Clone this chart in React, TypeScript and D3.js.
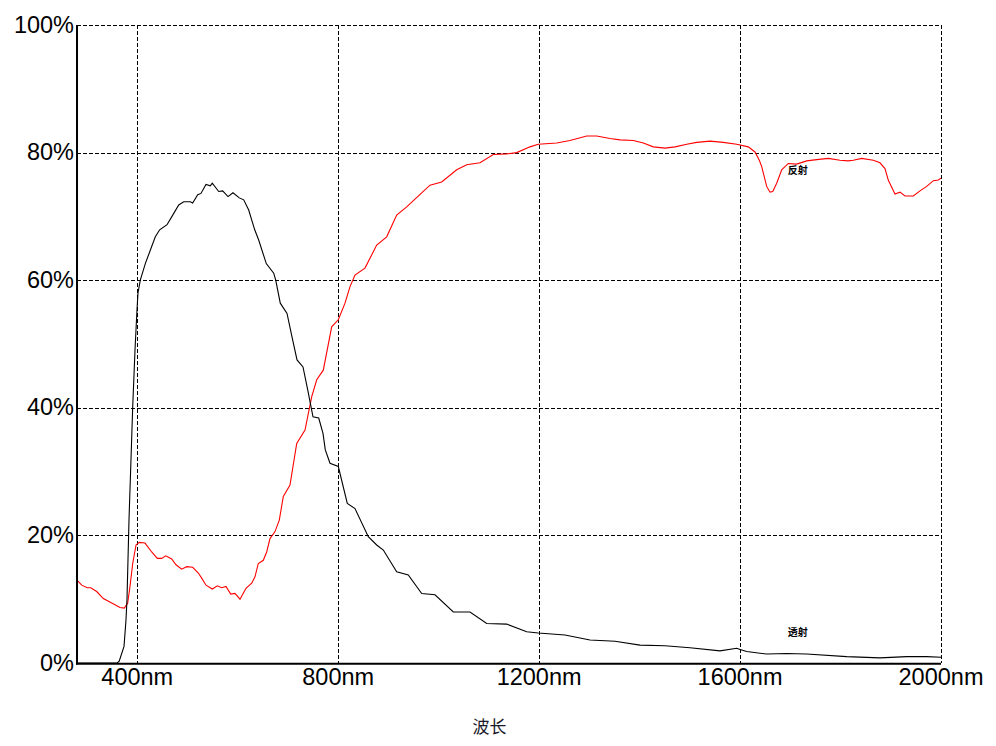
import React from "react";
import * as d3 from "d3";

// Wavelength (nm) and transmission (%) — 透射
const transNm = [280, 360, 364, 373.6, 377.5, 379.5, 383.5, 388.1, 390.9, 395.5, 399.4, 401.4, 406, 416, 425.9, 435.9, 444.6, 459.2, 469.1, 482.5, 492.4, 505.5, 510.3, 520.3, 526.8, 536.8, 545.4, 549.3, 562.1, 570, 580.6, 590.5, 603.1, 611.9, 621.8, 633.8, 641.7, 656.8, 671.6, 675.6, 684.7, 698.1, 708, 718, 729.9, 739.3, 749.8, 761.2, 769.7, 774.3, 783.7, 800.2, 818.1, 833.4, 859.9, 876.6, 889.8, 916.4, 939.5, 966.2, 992.7, 1029.1, 1062.4, 1095.6, 1135.4, 1175.2, 1198.3, 1251.5, 1301.2, 1351, 1400.8, 1450.6, 1500.3, 1560, 1593.3, 1599.9, 1613.2, 1653, 1692.8, 1732.6, 1812.3, 1878.5, 1931.7, 1971.5, 2000];
const transPct = [0, 0, 0.3, 2.6, 6.7, 9.9, 22.4, 33.4, 40.2, 49.1, 55.3, 58.0, 60.0, 62.6, 64.7, 66.8, 67.9, 68.7, 70.0, 71.8, 72.3, 72.3, 72.1, 73.4, 73.6, 75.0, 74.8, 75.2, 73.9, 74.0, 73.1, 73.7, 72.9, 72.6, 71.0, 67.9, 66.3, 62.6, 61.1, 60.0, 56.4, 54.8, 51.1, 47.5, 46.4, 42.8, 38.6, 38.4, 36.0, 33.4, 31.3, 30.8, 25.0, 24.2, 19.8, 18.5, 17.7, 14.3, 13.8, 10.9, 10.7, 8.0, 8.0, 6.2, 6.1, 4.9, 4.7, 4.4, 3.6, 3.4, 2.8, 2.7, 2.4, 1.9, 2.3, 2.1, 1.8, 1.4, 1.5, 1.4, 1.0, 0.8, 1.0, 1.0, 0.9];

// Wavelength (nm) and reflection (%) — 反射
const reflNm = [280, 289.4, 300.5, 307.3, 319.2, 332.4, 349.1, 365.6, 374.2, 380.9, 385.5, 390.9, 397.5, 404, 415.4, 428.7, 439.9, 448.6, 456.6, 468.5, 477.1, 488.4, 498.4, 510.3, 521.5, 528.2, 536.8, 549.3, 559.3, 568.1, 576.6, 586, 594.5, 604.5, 616.4, 627.8, 634.3, 640.9, 650.9, 657.6, 664.2, 674.2, 682.7, 690.7, 704, 717.4, 733.9, 747.2, 757.2, 770.3, 787, 800.2, 813.5, 823.5, 833.4, 853.3, 876.6, 896.5, 916.4, 936.3, 966.2, 982.7, 1006, 1035.9, 1055.8, 1082.3, 1108.7, 1135.4, 1155.3, 1181.8, 1198.3, 1234.9, 1261.4, 1294.7, 1314.6, 1341.1, 1361, 1387.5, 1407.4, 1427.3, 1450.6, 1470.5, 1493.8, 1513.7, 1540.2, 1566.6, 1593.3, 1616.4, 1629.7, 1638.3, 1643.1, 1653, 1659.6, 1665, 1672.9, 1682.9, 1696, 1712.7, 1732.6, 1752.5, 1775.6, 1798.9, 1815.4, 1825.4, 1842.1, 1865.2, 1878.5, 1888.5, 1895, 1908.4, 1918.3, 1928.3, 1944.9, 1958.2, 1971.5, 1984.8, 1994.8, 2000];
const reflPct = [13.0, 12.2, 11.8, 11.8, 11.2, 10.1, 9.4, 8.7, 8.6, 9.4, 12.0, 15.6, 18.5, 18.9, 18.8, 17.4, 16.4, 16.4, 16.8, 16.3, 15.4, 14.7, 15.1, 15.0, 14.1, 13.3, 12.2, 11.6, 12.1, 11.8, 12.0, 10.8, 10.9, 10.0, 11.7, 12.5, 13.5, 15.6, 16.1, 17.4, 19.5, 20.6, 22.4, 26.1, 27.9, 34.4, 36.5, 41.7, 44.4, 45.9, 52.7, 53.8, 56.4, 59.0, 60.8, 61.9, 65.5, 66.8, 70.2, 71.5, 73.7, 74.9, 75.4, 77.3, 78.1, 78.4, 79.7, 79.8, 80.0, 80.9, 81.3, 81.5, 81.9, 82.6, 82.6, 82.2, 82.0, 81.9, 81.5, 80.9, 80.7, 80.9, 81.3, 81.6, 81.8, 81.6, 81.3, 80.9, 80.1, 78.8, 77.8, 74.7, 73.8, 73.9, 75.2, 77.3, 78.3, 78.2, 78.7, 78.9, 79.1, 78.8, 78.7, 78.8, 79.1, 78.8, 78.4, 77.5, 75.7, 73.5, 73.8, 73.2, 73.2, 74.0, 74.7, 75.6, 75.7, 76.0];

const xTicks = [400, 800, 1200, 1600, 2000];
const xTickLabels = ["400nm", "800nm", "1200nm", "1600nm", "2000nm"];
const yTicks = [0, 20, 40, 60, 80, 100];
const yTickLabels = ["0%", "20%", "40%", "60%", "80%", "100%"];
const xTitle = "波长";
const reflLabel = "反射";
const transLabel = "透射";
const reflLabelAt = [1695, 76.6];
const transLabelAt = [1695, 4.2];

const W = 996;
const H = 746;
const L = 77;
const R = 941;
const T = 25;
const B = 663;

export default function App() {
  const x = d3.scaleLinear().domain([280, 2000]).range([L, R]);
  const y = d3.scaleLinear().domain([0, 100]).range([B, T]);
  const line = d3
    .line<[number, number]>()
    .x((d) => x(d[0]))
    .y((d) => y(d[1]));
  const trans = transNm.map((n, i) => [n, transPct[i]] as [number, number]);
  const refl = reflNm.map((n, i) => [n, reflPct[i]] as [number, number]);
  const font = "'Liberation Sans', Arial, sans-serif";

  return (
    <svg
      width={W}
      height={H}
      style={{ position: "absolute", left: 0, top: 0, background: "#fff" }}
    >
      <rect x={0} y={0} width={W} height={H} fill="#fff" />
      {/* grid */}
      <g stroke="#000" strokeWidth={1} strokeDasharray="4,2" shapeRendering="crispEdges">
        {yTicks
          .filter((t) => t > 0)
          .map((t) => (
            <line key={"gy" + t} x1={L} x2={R} y1={Math.round(y(t)) + 0.5} y2={Math.round(y(t)) + 0.5} />
          ))}
        {xTicks.map((t) => (
          <line key={"gx" + t} x1={Math.round(x(t)) + 0.5} x2={Math.round(x(t)) + 0.5} y1={T} y2={B} />
        ))}
      </g>
      {/* curves */}
      <path d={line(refl) || ""} fill="none" stroke="#ff0000" strokeWidth={1.1} />
      <path d={line(trans) || ""} fill="none" stroke="#000" strokeWidth={1.1} />
      {/* axes */}
      <line x1={L} x2={L} y1={T} y2={B + 1.5} stroke="#000" strokeWidth={2} />
      <line x1={L - 1} x2={R} y1={B + 0.7} y2={B + 0.7} stroke="#000" strokeWidth={2} />
      {/* y tick labels */}
      {yTicks.map((t, i) => (
        <text
          key={"yl" + t}
          x={74}
          y={y(t) + 7.5}
          textAnchor="end"
          fontFamily={font}
          fontSize={23.5}
          fill="#000"
        >
          {yTickLabels[i]}
        </text>
      ))}
      {/* x tick labels */}
      {xTicks.map((t, i) => (
        <text
          key={"xl" + t}
          x={x(t)}
          y={B + 21.5}
          textAnchor="middle"
          fontFamily={font}
          fontSize={23.5}
          fill="#000"
        >
          {xTickLabels[i]}
        </text>
      ))}
      {/* series labels */}
      <text
        x={x(reflLabelAt[0])}
        y={y(reflLabelAt[1])}
        fontFamily="'Noto Sans CJK SC', sans-serif"
        fontSize={10}
        fontWeight="bold"
        fill="#000"
      >
        {reflLabel}
      </text>
      <text
        x={x(transLabelAt[0])}
        y={y(transLabelAt[1])}
        fontFamily="'Noto Sans CJK SC', sans-serif"
        fontSize={10}
        fontWeight="bold"
        fill="#000"
      >
        {transLabel}
      </text>
      {/* axis title */}
      <text
        x={489.5}
        y={733}
        textAnchor="middle"
        fontFamily="'Noto Sans CJK SC', sans-serif"
        fontSize={17}
        fill="#1a1a2a"
      >
        {xTitle}
      </text>
    </svg>
  );
}
